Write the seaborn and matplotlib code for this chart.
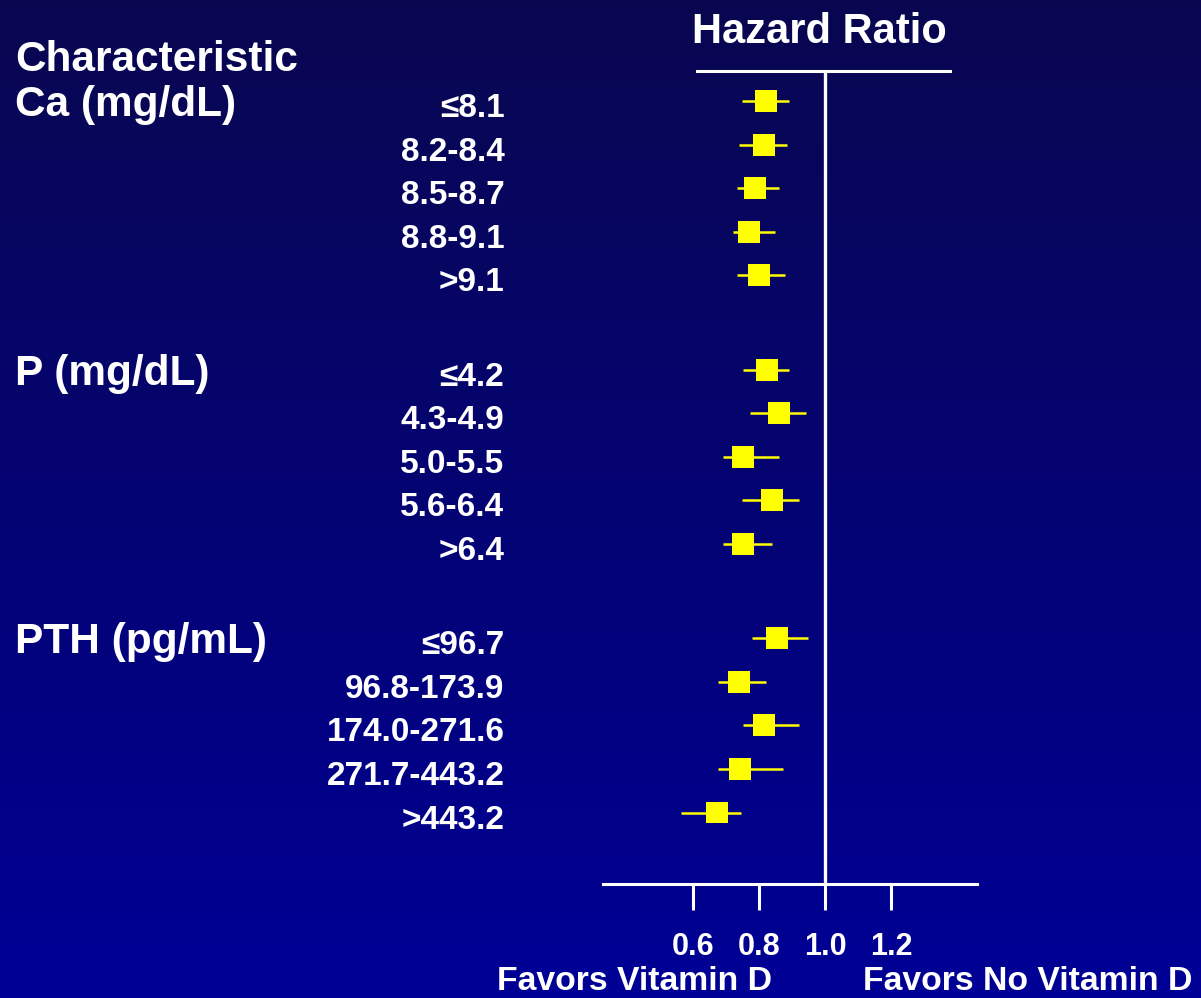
import numpy as np
import pandas as pd
import matplotlib
matplotlib.use('Agg')
import matplotlib.pyplot as plt
import matplotlib.transforms as mtransforms
from matplotlib.colors import LinearSegmentedColormap
import seaborn as sns

# Subgroups and hazard ratios
groups = ['Ca (mg/dL)', 'P (mg/dL)', 'PTH (pg/mL)']

ca_labels = ['≤8.1', '8.2-8.4', '8.5-8.7', '8.8-9.1', '>9.1']
ca_hr = [0.82, 0.816, 0.787, 0.77, 0.80]
ca_lo = [0.747, 0.74, 0.734, 0.721, 0.734]
ca_hi = [0.892, 0.884, 0.859, 0.847, 0.879]

p_labels = ['≤4.2', '4.3-4.9', '5.0-5.5', '5.6-6.4', '>6.4']
p_hr = [0.825, 0.86, 0.751, 0.838, 0.751]
p_lo = [0.752, 0.772, 0.69, 0.747, 0.69]
p_hi = [0.892, 0.942, 0.859, 0.922, 0.84]

pth_labels = ['≤96.7', '96.8-173.9', '174.0-271.6', '271.7-443.2', '>443.2']
pth_hr = [0.853, 0.739, 0.816, 0.742, 0.671]
pth_lo = [0.778, 0.676, 0.752, 0.676, 0.562]
pth_hi = [0.947, 0.821, 0.922, 0.873, 0.744]

xticks = [0.6, 0.8, 1.0, 1.2]
xtick_labels = ['0.6', '0.8', '1.0', '1.2']

group_step = 6.16  # row units between the first rows of two groups

rows = []
for g, (labels, hr, lo, hi) in enumerate([(ca_labels, ca_hr, ca_lo, ca_hi),
                                          (p_labels, p_hr, p_lo, p_hi),
                                          (pth_labels, pth_hr, pth_lo, pth_hi)]):
    for i in range(len(labels)):
        rows.append({'group': groups[g], 'label': labels[i], 'hr': hr[i],
                     'lo': lo[i], 'hi': hi[i], 'pos': g * group_step + i})
df = pd.DataFrame(rows)

sns.set_theme(style='ticks')
plt.rcParams['font.family'] = ['Liberation Sans', 'DejaVu Sans']
plt.rcParams['font.weight'] = 'bold'

W, H = 1201, 998
fig = plt.figure(figsize=(W / 100, H / 100), dpi=100)

# gradient background
bg = fig.add_axes([0, 0, 1, 1], zorder=-10)
grad = np.linspace(0, 1, 256).reshape(-1, 1)
cmap = LinearSegmentedColormap.from_list('bg', ['#090750', '#000096'])
bg.imshow(grad, aspect='auto', cmap=cmap, extent=[0, 1, 0, 1], origin='upper')
bg.axis('off')

ax = fig.add_axes([603 / W, 1 - 884 / H, (977 - 603) / W, (884 - 71) / H])
ax.set_facecolor('none')

ax.axvline(1.0, color='white', lw=2.4, zorder=1)
ax.hlines(df['pos'], df['lo'], df['hi'], color='yellow', lw=1.8, zorder=2)
sns.scatterplot(data=df, x='hr', y='pos', marker='s', s=250, color='yellow',
                edgecolor='none', ax=ax, zorder=3, legend=False)

ax.set_xlim(0.3263, 1.4613)
ax.set_ylim(17.96, -0.688)
ax.grid(False)
ax.set_xlabel('')
ax.set_ylabel('')

for side in ['left', 'right']:
    ax.spines[side].set_visible(False)
for side in ['top', 'bottom']:
    ax.spines[side].set_color('white')
    ax.spines[side].set_linewidth(2.2)
ax.spines['top'].set_bounds(0.612, 1.379)

ax.set_xticks(xticks)
ax.set_xticklabels(xtick_labels)
ax.tick_params(axis='x', direction='out', length=18.7, width=2.2, color='white',
               labelcolor='white', labelsize=22, pad=16)

ax.set_yticks(df['pos'])
ax.set_yticklabels(df['label'])
ax.tick_params(axis='y', length=0, pad=71, labelsize=24, labelcolor='white')
# labels sit a few pixels below the markers in the original
shift = mtransforms.ScaledTranslation(0, -4 / 100, fig.dpi_scale_trans)
for lbl in ax.get_yticklabels():
    lbl.set_transform(lbl.get_transform() + shift)

# group headers on the left
trans = mtransforms.blended_transform_factory(fig.transFigure, ax.transData)
for g, name in enumerate(groups):
    ax.text(15 / W, g * group_step + 0.1, name, transform=trans, ha='left',
            va='center', fontsize=30.5, color='white')
ax.text(15 / W, -0.95, 'Characteristic', transform=trans, ha='left', va='center',
        fontsize=30.5, color='white')

fig.text(819 / W, 1 - 32 / H, 'Hazard Ratio', ha='center', va='center',
         fontsize=30, color='white')
fig.text(497 / W, 1 - 966 / H, 'Favors Vitamin D', ha='left', va='top',
         fontsize=24.3, color='white')
fig.text(863 / W, 1 - 966 / H, 'Favors No Vitamin D', ha='left', va='top',
         fontsize=24.3, color='white')

fig.savefig('out.png', dpi=100)
plt.close(fig)
